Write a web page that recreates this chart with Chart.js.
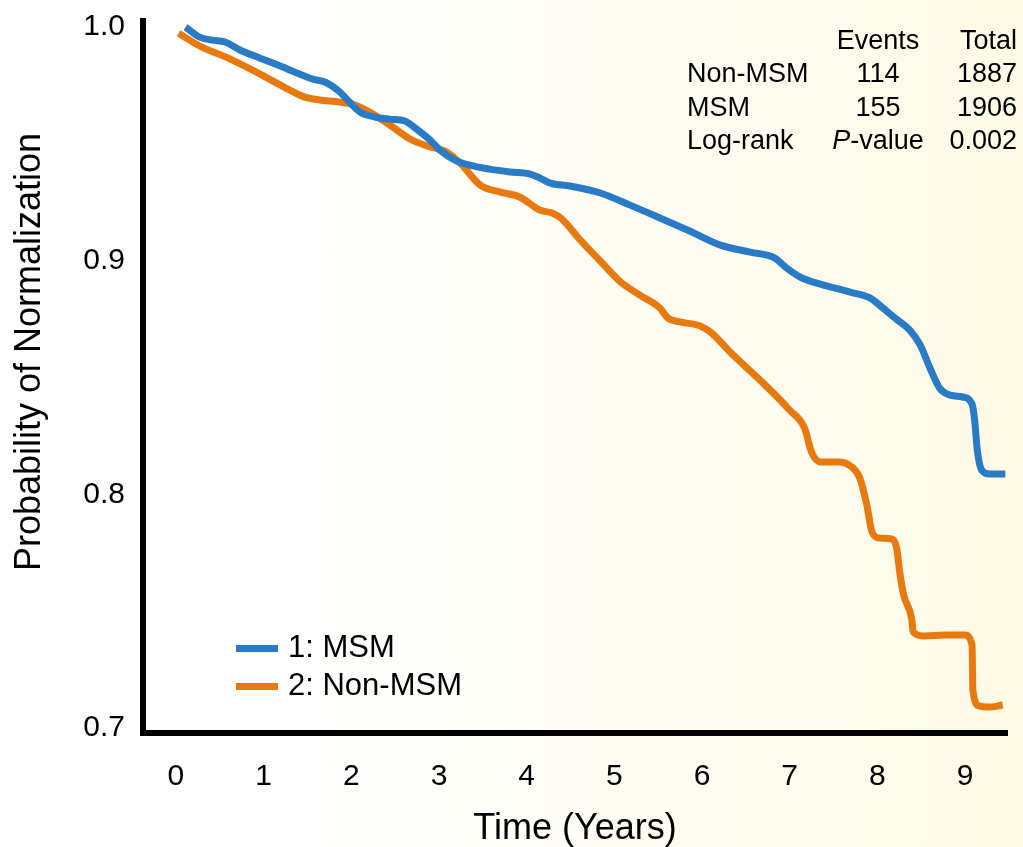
<!DOCTYPE html>
<html><head><meta charset="utf-8">
<script src="https://cdn.jsdelivr.net/npm/chart.js@4.4.1/dist/chart.umd.min.js"></script>
<style>
html,body{margin:0;padding:0;}
body{width:1023px;height:847px;overflow:hidden;position:relative;background:linear-gradient(to right,#ffffff 0px,#ffffff 290px,#fdfae5 1023px);font-family:"Liberation Sans",Arial,Helvetica,sans-serif;}
#c{position:absolute;left:0;top:0;}
.t{position:absolute;font-size:27px;line-height:27px;color:#000;white-space:nowrap;}
.c{transform:translateX(-50%);}
.r{transform:translateX(-100%);}
.lg{position:absolute;font-size:31px;line-height:31px;color:#000;white-space:nowrap;}
.sw{position:absolute;height:7px;width:42px;}
</style>
</head><body>
<canvas id="c" width="1023" height="847"></canvas>
<div id="overlay"></div>
<script>
// ---- data ----
const msmTime = [0.11,0.27,0.41,0.56,0.73,0.96,1.19,1.41,1.56,1.70,1.87,1.98,2.10,2.27,2.44,2.61,2.76,2.90,3.01,3.18,3.35,3.58,3.81,4.04,4.15,4.27,4.49,4.84,5.18,5.52,5.86,6.21,6.55,6.83,6.95,7.12,7.35,7.69,7.92,8.05,8.20,8.37,8.49,8.60,8.71,8.83,8.97,9.08,9.11,9.14,9.19,9.28,9.46];
const msmProb = [1.000,0.9957,0.9944,0.9936,0.9902,0.9867,0.9833,0.9799,0.9777,0.9765,0.9722,0.9679,0.9636,0.9615,0.9606,0.9598,0.9559,0.9516,0.9474,0.9431,0.9409,0.9392,0.9380,0.9371,0.9354,0.9332,0.9320,0.9290,0.9238,0.9183,0.9127,0.9067,0.9037,0.9012,0.8973,0.8930,0.8900,0.8866,0.8840,0.8802,0.8755,0.8703,0.8639,0.8541,0.8455,0.8425,0.8417,0.8387,0.8318,0.8190,0.8104,0.8087,0.8087];
const nonMsmTime = [0.03,0.27,0.62,0.96,1.30,1.47,1.64,1.87,2.04,2.21,2.44,2.67,2.90,3.07,3.24,3.47,3.70,3.92,4.15,4.29,4.40,4.61,4.84,5.06,5.29,5.52,5.61,5.75,5.98,6.11,6.32,6.66,7.00,7.17,7.25,7.35,7.57,7.71,7.80,7.88,7.94,8.03,8.17,8.22,8.26,8.30,8.39,8.41,8.54,8.77,9.00,9.08,9.09,9.16,9.28,9.43];
const nonMsmProb = [0.9974,0.9919,0.9863,0.9799,0.9730,0.9700,0.9688,0.9679,0.9666,0.9636,0.9581,0.9521,0.9487,0.9469,0.9418,0.9324,0.9294,0.9273,0.9217,0.9204,0.9179,0.9089,0.8999,0.8913,0.8853,0.8798,0.8755,0.8738,0.8721,0.8691,0.8609,0.8490,0.8361,0.8284,0.8181,0.8139,0.8139,0.8117,0.8070,0.7955,0.7839,0.7813,0.7809,0.7771,0.7655,0.7570,0.7471,0.7411,0.7394,0.7398,0.7398,0.7356,0.7163,0.7095,0.7090,0.7099];
const xTicks = [0,1,2,3,4,5,6,7,8,9];
const yTicks = [0.7,0.8,0.9,1.0];
const seriesLabels = ['1: MSM','2: Non-MSM'];
const seriesColors = ['#2a7bc5','#e8790f'];
const tableCols = ['Events','Total'];
const tableRowNames = ['Non-MSM','MSM'];
const tableEvents = [114,155];
const tableTotals = [1887,1906];
const logRank = ['Log-rank','P-value','0.002'];
const yTitle = 'Probability of Normalization';
const xTitle = 'Time (Years)';

const FONT = '"Liberation Sans", Arial, Helvetica, sans-serif';
const pts = (xs, ys) => xs.map((x, i) => ({x: x, y: ys[i]}));

// draws the y-axis title (off-centre, as in the original figure)
const yTitlePlugin = {
  id: 'yTitlePlugin',
  afterDraw(chart) {
    const ctx = chart.ctx;
    ctx.save();
    ctx.translate(30, 352);
    ctx.rotate(-Math.PI / 2);
    ctx.font = '36px ' + FONT;
    ctx.fillStyle = '#000';
    ctx.textAlign = 'center';
    ctx.textBaseline = 'middle';
    ctx.fillText(yTitle, 0, 0);
    ctx.restore();
  }
};

const chart = new Chart(document.getElementById('c'), {
  type: 'line',
  data: {
    datasets: [
      {label: seriesLabels[0], data: pts(msmTime, msmProb), borderColor: seriesColors[0], backgroundColor: seriesColors[0], borderWidth: 7, pointRadius: 0, cubicInterpolationMode: 'monotone', borderCapStyle: 'butt', fill: false},
      {label: seriesLabels[1], data: pts(nonMsmTime, nonMsmProb), borderColor: seriesColors[1], backgroundColor: seriesColors[1], borderWidth: 7, pointRadius: 0, cubicInterpolationMode: 'monotone', borderCapStyle: 'butt', fill: false}
    ]
  },
  plugins: [yTitlePlugin],
  options: {
    responsive: false, animation: false, devicePixelRatio: 1,
    layout: {padding: {left: 0, top: 21, right: 16, bottom: 0}},
    plugins: {legend: {display: false}, tooltip: {enabled: false}},
    scales: {
      x: {
        type: 'linear', min: -0.376, max: 9.479,
        grid: {display: false, drawTicks: false},
        border: {display: true, color: '#000', width: 6},
        afterBuildTicks: s => { s.ticks = xTicks.map(v => ({value: v})); },
        afterFit: s => { s.height = 114; s.paddingLeft = 0; s.paddingRight = 0; },
        ticks: {color: '#000', font: {family: FONT, size: 30}, padding: 26, maxRotation: 0, autoSkip: false, callback: v => String(v)},
        title: {display: true, text: xTitle, color: '#000', font: {family: FONT, size: 36, lineHeight: 1}, padding: {top: 0, bottom: 0}}
      },
      y: {
        type: 'linear', min: 0.6979, max: 1.0026,
        grid: {display: false, drawTicks: false},
        border: {display: true, color: '#000', width: 6},
        afterBuildTicks: s => { s.ticks = yTicks.map(v => ({value: v})); },
        afterFit: s => { s.width = 143; s.paddingTop = 0; s.paddingBottom = 0; },
        ticks: {color: '#000', font: {family: FONT, size: 30}, padding: 18, autoSkip: false, callback: v => Number(v).toFixed(1)},
        title: {display: false, text: yTitle}
      }
    }
  }
});

// ---- overlay: table and legend ----
const ov = document.getElementById('overlay');
function add(cls, txt, left, top, html) {
  const d = document.createElement('div');
  d.className = cls;
  if (html) d.innerHTML = txt; else d.textContent = txt;
  d.style.left = left + 'px'; d.style.top = top + 'px';
  ov.appendChild(d);
  return d;
}
const rowTops = [27, 60, 94, 127];
add('t c', tableCols[0], 878, rowTops[0]);
add('t r', tableCols[1], 1017, rowTops[0]);
tableRowNames.forEach((n, i) => {
  add('t', n, 687, rowTops[i + 1]);
  add('t c', String(tableEvents[i]), 878, rowTops[i + 1]);
  add('t r', String(tableTotals[i]), 1017, rowTops[i + 1]);
});
add('t', logRank[0], 687, rowTops[3]);
add('t c', '<i>P</i>-value', 878, rowTops[3], true);
add('t r', logRank[2], 1017, rowTops[3]);

const legTops = [631, 669];
chart.data.datasets.forEach((ds, i) => {
  const sw = add('sw', '', 236, legTops[i] + 14);
  sw.style.background = ds.borderColor;
  add('lg', ds.label, 288, legTops[i]);
});
</script>
</body></html>
